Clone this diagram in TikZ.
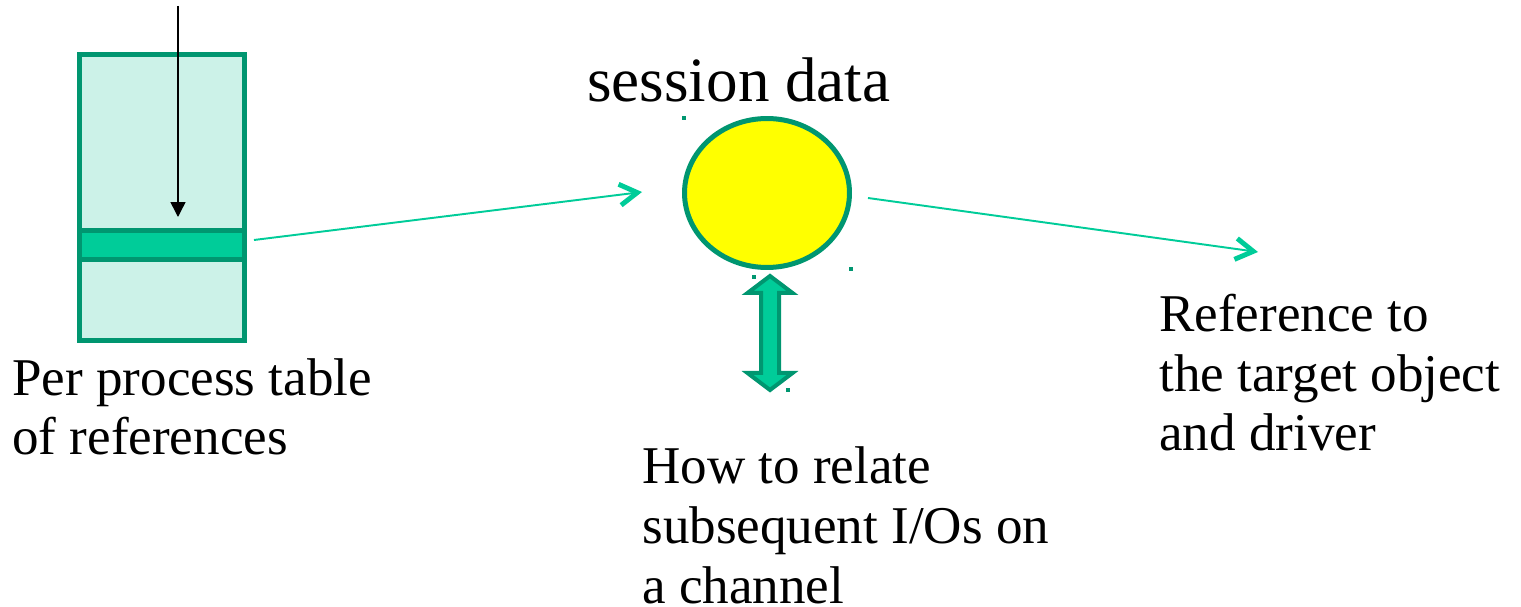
\documentclass[tikz,border=0pt]{standalone}
\usepackage{fontspec}
\setmainfont{Liberation Serif}
\usetikzlibrary{arrows.meta, positioning, shapes.geometric}
\definecolor{darkgreen}{RGB}{0,150,112}
\definecolor{mint}{RGB}{0,204,153}
\definecolor{palemint}{RGB}{204,242,232}
\definecolor{sunyellow}{RGB}{255,255,0}
\tikzset{table box/.style={draw=darkgreen, fill=palemint, line width=0.1cm, minimum width=3.3cm, minimum height=5.72cm, inner sep=0}}
\tikzset{row box/.style={draw=darkgreen, fill=mint, line width=0.1cm, minimum width=3.3cm, minimum height=0.58cm, inner sep=0}}
\tikzset{data state/.style={draw=darkgreen, fill=sunyellow, ellipse, line width=0.1cm, minimum width=3.3cm, minimum height=2.98cm, inner sep=0}}
\tikzset{label text/.style={align=left, anchor=base west, inner sep=0, font=\fontsize{30.2}{34.1}\selectfont}}
\tikzset{link/.style={draw=mint, line width=1.1pt, -{Straight Barb[length=10pt,width=12pt,line width=2.8pt]}}}

\begin{document}
\begin{tikzpicture}[x=0.02cm, y=-0.02cm]
			\useasboundingbox (0,0) rectangle (1521,607);
			\node[table box] (tab) at (162,197.5) {};
			\node[row box] (row) at (162,245) {};
			\node[data state] (sess) at (767,193) {};
			\node[label text, font=\fontsize{35.9}{43}\selectfont] (title) at (587,102) {session data};
			% base anchor sits on the last line
			\node[label text] (perproc) at (12,455) {Per process table\\of references};
			\node[label text] (howto) at (642,603) {How to relate\\subsequent I/Os on\\a channel};
			\node[label text] (target) at (1159,451) {Reference to\\the target object\\and driver};
			\coordinate (src) at (178,6);
			\coordinate (tgt) at (1258,252);
			
			\draw[-{Triangle[length=8.5pt,width=8.5pt]}, line width=0.85pt, shorten >=0.22cm] (src) -- (src |- row.north);
			\draw[link] ([shift={(7,-5)}]row.east) -- ([shift={(-40,-1)}]sess.west);
			\draw[link] ([shift={(16,5)}]sess.east) -- (tgt);
			\draw[draw=darkgreen, fill=mint, line width=0.08cm] (770,276) -- (747.5,293) -- (761,293) -- (761,373) -- (747.5,373) -- (770,390) -- (792.5,373) -- (779,373) -- (779,293) -- (792.5,293) -- cycle;
			\foreach \x/\y in {684/118, 851/269, 754/277, 788/390}
				\fill[darkgreen] (\x-2,\y-2) rectangle (\x+2,\y+2);
		\end{tikzpicture}
\end{document}
